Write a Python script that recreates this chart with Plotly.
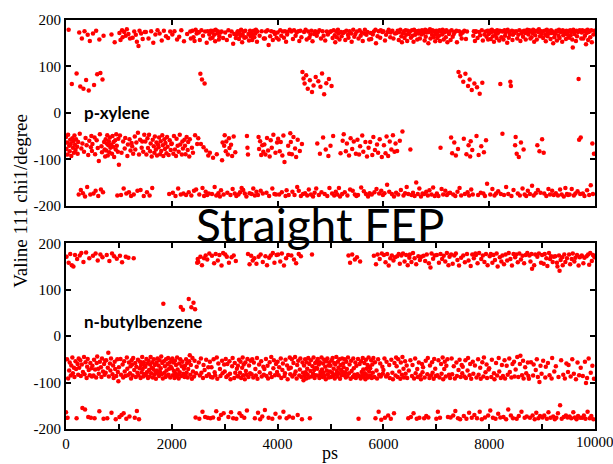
import plotly.graph_objects as go

# Valine 111 chi1 dihedral (degrees), one value per 10 ps frame, 0-10000 ps.
# Each line below holds 25 consecutive frames (250 ps).
chi1_pxylene = [
    -52, -78, -64, -90, -47, 179, -71, -83, -58, -67, -93, 62, -55, -75, -61, -86, -49, -69, -80, -57, 85, -73, -88, -63, -176,
    173, -45, 57, -166, -77, 160, -66, -173, 52, -84, 176, -180, -54, 71, -70, -160, 168, -91, 48, -60, 155, -176, -74, -50, -82,
    -67, 171, -174, 60, -53, -89, -168, 177, -59, 83, -76, -179, -104, 158, -46, 86, -165, -72, -85, 72, -171, 166, -63, -79, -94,
    -57, -81, -66, -48, -92, -70, -61, -85, -53, -75, -68, 169, -88, -50, -73, -63, -95, 152, -59, -79, -46, -71, -178, -84, -56,
    -112, 172, -49, 157, -177, -86, 178, 163, -62, -163, 174, -77, -54, 166, -174, 180, -93, -68, 170, -171, -57, 160, -81, -179, -65,
    -72, 162, -88, -176, 175, -51, -79, 168, -64, 153, -168, -43, 144, -90, 177, -58, -166, 171, -75, -62, 159, -84, -179, -47, 174,
    -62, 174, -90, -171, -55, -76, 160, -47, -178, -83, -66, 176, -94, -162, -58, 151, -72, -86, -51, 169, -79, -64, -92, 178, -69,
    -74, -53, 171, -89, -61, -82, 156, -48, -70, -93, 177, -57, -78, -65, 165, -87, -52, -73, 161, -91, -175, -59, 175, -80, -67,
    -66, 169, -172, -88, -50, 176, -79, -179, -93, -56, 158, -71, -163, -84, 164, -47, -68, -176, 178, -90, -62, -77, -174, 154, -58,
    -71, -89, -177, -52, 170, -80, -63, -171, -94, -57, 175, 160, -178, -75, 177, -86, 163, -168, 155, -48, 179, -165, 171, -67, 174,
    -55, 173, -176, 157, 84, -67, 178, 72, -162, 166, -74, -179, 63, 175, -170, -81, 151, -177, 176, -92, -174, 169, -86, 160, 177,
    174, -175, 162, -97, 177, 168, -160, 154, 179, -178, -89, 171, 176, -173, 158, 165, -180, 173, -167, 175, -102, -64, 161, -176, -71,
    -48, 173, -83, -62, 157, -172, -90, 178, -55, -76, 166, -177, -69, 175, -93, -164, 149, -51, 170, -174, -85, 161, -179, 168, 174,
    176, -176, 159, 173, -171, 166, 179, -162, 152, 168, -166, 175, 162, -174, 177, 163, -180, -50, -75, -90, 170, 156, -173, 177, 165,
    172, -175, 157, 168, -163, 177, 163, -178, 171, 179, -170, 153, 175, -177, -52, -78, 166, -61, -168, -91, 176, -70, -174, -84, 160,
    -68, 160, -90, 175, -172, -54, 178, -81, 146, -179, -94, 165, -59, 176, -75, -163, 157, -47, 174, -175, 170, -86, -176, 162, -64,
    173, -56, 158, -176, -83, 178, -63, 166, -171, -92, 175, -49, 162, -106, 176, -179, 153, -167, 169, 174, -71, -177, -88, 179, -44,
    -63, 175, -89, -170, 159, -52, 178, -177, -77, 166, -95, 173, -160, -58, 176, -168, 155, -82, 177, -179, 163, -67, 88, -175, 74,
    174, 63, -173, 179, 81, 158, -178, 52, 175, -165, 162, 70, 168, -176, 177, 45, 154, -180, 59, 170, -172, 176, 77, -163, 166,
    -66, 173, 68, -177, 178, -88, 56, 160, -171, 85, 176, -53, 166, 40, -175, 156, -79, 64, 175, -179, 169, -93, 73, -162, 174,
    -71, 176, 58, -174, 161, -50, 178, -178, 167, 152, -170, 175, 163, -176, 179, 171, -162, 158, -180, -87, 174, 165, -175, -60, 172,
    -46, 174, -171, 157, -83, 177, -66, -178, 168, 162, -92, 176, -165, -55, 171, 153, -78, -168, 179, -62, 164, -176, 170, -88, -179,
    175, -58, -177, 160, -90, 178, -72, 166, -161, 173, -49, 155, -84, -169, 171, 179, -63, -175, 168, -94, 174, -180, -75, 158, -173,
    -63, 172, 159, -176, -91, 169, -52, 175, -171, -80, 179, 150, -164, -68, 165, -86, 176, -174, -57, 162, 178, -168, -95, 174, -177,
    176, -70, -173, 156, -87, 168, -51, -155, 174, -93, 179, -170, -62, 163, 173, -79, -175, 177, -48, 160, -180, -84, 171, -66, -172,
    172, -82, 177, -176, 157, 174, -60, 179, -166, 165, 152, -40, 171, -178, 176, 161, -173, 178, 168, -160, 155, 177, -175, 170, 174,
    175, -79, 162, -177, 178, 166, -172, 153, 179, -179, 168, 174, -150, 176, 158, -175, 171, 177, -163, 160, 175, -180, 169, 178, -174,
    171, 176, -175, 156, 179, 164, -170, 173, 177, -178, 150, 174, -167, 180, 160, 175, -176, 168, 178, -161, 163, 176, -179, 154, 169,
    177, -174, 161, 174, -179, 166, 178, 155, -75, 175, -164, 169, 179, -176, 158, 173, 176, -168, 163, 178, -177, 152, 174, -173, 170,
    175, -172, 157, -53, 178, -87, 164, -176, 170, -64, 174, -179, -92, 177, 152, -170, -78, 88, 176, -162, 79, 168, -178, 160, 173,
    173, 67, -56, 177, -175, 84, 159, -89, 175, -171, 58, -70, -178, 72, -94, -61, -165, 49, -80, -176, 166, 176, 63, 155, 174,
    176, -50, 55, 161, -177, -91, 174, 41, 167, -172, -72, 178, 65, 156, -174, -85, 169, -179, 175, -59, 164, -153, 177, 158, 170,
    172, 177, -176, 159, 174, 179, -164, 165, 175, 153, -178, 176, 168, -174, 161, 178, 171, -169, 174, 156, 177, 62, -175, 163, 176,
    -45, 175, 158, -177, 178, 166, 173, -160, 176, 151, 179, -175, 162, 174, 169, 67, 58, -179, 177, 157, 168, -166, 175, 172, -70,
    -52, 176, -88, 160, -174, 168, -95, 178, -178, 155, -64, 171, 175, -163, 164, -79, 177, -176, 172, 158, -179, 174, 179, -168, 169,
    174, 178, -175, 160, 176, 163, -157, 172, 179, -178, 153, 175, 167, -173, 177, 158, -70, -166, 174, 180, -83, 165, -172, 176, 170,
    -57, 175, 161, -86, -174, 177, 168, 154, -179, 179, 165, 174, -164, 171, 176, -176, 159, 178, 172, -168, 175, 150, -177, 163, 170,
    172, -173, 177, 156, 175, -178, 166, 179, 161, -165, 174, 176, -176, 153, 178, 167, -180, 170, 175, -162, 159, 177, -175, 168, -177,
    176, 162, -176, 178, 167, 174, -164, 158, 141, 179, -178, 170, 175, -174, 155, 177, 165, -169, 174, 73, -58, 178, -175, -53, 160,
    173, 178, -174, 160, 175, -179, 166, 177, 148, 172, -167, 179, 157, 174, -177, 176, 163, -156, 178, 152, -66, -175, 169, -88, 177,
]

chi1_nbutylbenzene = [
    -164, 171, -50, -176, -91, 158, -74, -57, 177, -85, -63, 153, -46, -80, 150, -68, -88, 175, -54, -71, -177, 166, -60, -83, -48,
    -68, 174, -52, -86, 179, -61, -155, -77, 160, -45, -82, -158, -56, 180, -90, -66, -49, -174, -73, 168, -84, -58, -176, -69, -87,
    -64, 173, -85, -51, -177, -72, 178, -89, -58, -44, 163, -70, -81, -162, -55, 176, -67, -88, -48, 170, -76, -178, -60, -83, -53,
    -79, -52, 175, -177, -68, -36, -87, 162, -59, -74, -48, -165, 178, -82, -63, -90, 172, -55, -71, -179, -86, 167, -50, -77, -97,
    -67, -174, 173, -49, -83, -170, 159, -61, -89, -166, -54, -76, -86, 171, -178, -46, -70, -84, 169, -57, -173, -80, -65, -91, -52,
    -61, -85, -47, 168, -73, -176, -58, -88, -66, -161, -79, -51, -84, -179, -69, -55, -90, -62, -78, -45, -71, -87, -56, -82, -64,
    -66, -84, -49, -78, -59, -90, -53, -73, -87, -61, -45, -80, -68, -56, -89, -71, -50, -83, -62, -76, -92, -57, -74, -48, -81,
    -63, -86, -52, -77, -69, -44, -82, -58, -91, 70, -54, -79, -65, -88, -50, -74, -85, -60, -47, -83, -70, -57, -89, -66, -51,
    -69, -48, -84, -57, -75, -90, -53, -80, -62, -87, -46, -72, -83, -91, -59, -78, -50, 63, -86, -65, -55, 57, -81, -70, -88,
    -64, -85, -50, -79, -58, -89, -71, 80, -54, -41, -83, -62, 62, -92, -47, -76, 72, -87, -53, 58, -175, -80, -66, 158, 166,
    160, -57, -178, -85, 171, -48, -79, 153, -163, -90, -62, 168, -73, -174, 174, -51, -86, 165, -176, -67, -82, 178, -55, -177, -88,
    -67, 173, -89, -175, -50, 157, -78, -84, 177, -162, -46, -92, 163, -59, -178, 175, -71, -86, -170, 152, -53, -80, 179, -166, -61,
    -76, 176, -49, -88, 171, -60, -85, -174, 158, -54, -81, -93, -164, 170, -65, -47, -177, 174, -90, -58, -79, 162, -178, -70, -86,
    -64, -87, -51, -166, -79, -55, -90, -172, -68, -46, -84, -61, -176, -93, -57, -75, -83, -160, -49, 177, -88, -63, 155, -80, -53,
    173, -82, -50, 163, -89, -57, 168, -177, -71, -85, 156, -47, -92, -165, 171, -61, -78, -179, 176, -54, -87, -173, 160, -66, -83,
    -71, -159, 172, -49, -86, 153, -64, -91, -176, 169, -56, -80, 174, -45, -88, -178, 179, -69, -52, 158, -84, -167, -60, 175, -77,
    -55, 176, -84, -67, -175, 161, -48, -90, 178, -73, -59, -163, 152, -86, -80, -51, 168, -177, -63, -93, 175, -70, -173, -46, -82,
    -68, 174, -50, -87, -176, -58, 165, -82, -45, -76, 157, -91, -62, -170, -53, 177, -85, -72, -48, 172, -88, -179, -57, -79, -95,
    -63, -86, -50, -78, -91, -56, -70, -83, -47, -89, -60, -177, -75, -52, -87, 176, -65, -81, -46, -73, -90, -58, -84, -68, -54,
    -70, -49, -85, -61, -90, -56, -77, -83, -46, -72, -88, -59, -79, -51, -86, -66, -93, -54, -74, -48, -82, -63, -89, -57, -76,
    -64, -88, -52, -79, -47, -85, -70, -58, -91, -61, -82, -45, -75, -87, -55, -68, -80, -50, -92, -62, -73, -84, -48, -77, -59,
    -67, -84, -50, -78, -89, -55, -71, -86, -46, 174, -80, -61, 158, -92, -53, -75, 176, -88, -48, -69, -83, 165, -57, -90, -64,
    170, -82, -49, -178, -86, -60, 161, -91, -54, -77, -85, -47, -72, -88, -58, -80, -93, -51, -70, -84, -62, -89, -46, -76, -66,
    -69, -85, -52, -90, -61, -79, -47, 173, -88, -56, -177, 155, -74, -91, 176, -50, -163, -83, 166, -59, -87, -180, 178, -66, -81,
    -73, 175, -48, -176, 159, -87, -55, 177, -82, -171, 152, -62, -90, 168, -178, -51, 174, -79, -93, 163, -166, -58, 170, -85, -46,
    -65, 172, -88, -50, 177, -76, 156, -92, -57, 174, -83, -45, 178, -70, -89, 161, -54, -81, 175, -63, -90, 153, -177, -74, 169,
    176, -52, -174, 160, -86, -62, 179, -166, -91, 168, -48, -80, 155, -178, -71, -88, 172, -57, -176, 164, -84, -93, 171, -60, -78,
    -67, 173, -177, -89, 162, -53, -172, 176, -82, -47, -175, 157, -90, -63, 148, -85, 178, -56, -79, 167, -92, -49, 174, -70, -86,
    -178, 175, -84, -163, -52, 158, -89, -176, 177, -60, -81, 166, -46, -93, 173, -71, -55, 161, -87, -64, 179, -50, -174, 153, -83,
    171, -90, -175, 176, -48, -82, 156, -171, -65, 174, -91, -161, 178, -57, -86, 164, -177, -73, 152, -51, -179, -88, 169, -62, -80,
    -66, 174, -172, -87, 159, -52, -90, -178, 177, -74, -47, 163, -165, -84, -60, 151, -92, -176, 176, -55, -81, 168, -170, -63, 178,
    175, -89, -177, 157, -50, -83, 179, -163, -68, -92, 166, -179, -56, 174, -87, -46, 160, -175, -78, 177, -61, -90, 153, -171, -72,
    -69, 172, -160, 177, -88, -51, 158, -176, 175, -80, -93, 164, -178, -58, 178, -85, 150, -167, -47, -76, 170, -175, -90, 161, -62,
    174, -86, -174, 155, -52, -91, 176, -179, -64, 163, -83, -158, 179, -48, -77, 166, -171, -89, 152, -60, -177, 177, -55, -87, 170,
    -72, 176, -178, -45, 159, -88, -172, 178, -60, -42, 165, -163, -84, 173, -53, -91, 157, -176, -67, 175, -80, -173, 179, -57, -86,
    -92, 174, -176, 161, -56, 177, 145, -171, -85, -61, 153, -179, 176, -73, -165, -50, 171, -88, -177, 178, -99, -172, -64, 158, -81,
    175, -175, -53, 156, -171, 177, -89, -66, 168, -178, 151, -58, -164, 179, -84, 166, -176, 172, -91, -47, 160, -173, 171, -76, -179,
    172, -65, -176, 158, 150, -166, -88, 174, 141, -149, 164, -52, -178, 170, 153, -83, -174, 176, -91, 160, -171, -59, 168, -175, -77,
    -62, 176, -173, 155, -87, -177, 166, -50, 178, -164, -81, 161, -175, 169, -93, -179, 175, -57, -172, 152, -84, 170, -176, -68, 172,
    174, -176, -86, 157, -171, 169, -55, -178, -101, 172, -90, -163, 176, -48, 154, -177, 179, -79, -172, 162, -64, 175, -179, -92, 170,
]

frame_ps = 10
time_pxylene = [i * frame_ps for i in range(len(chi1_pxylene))]
time_nbutylbenzene = [i * frame_ps for i in range(len(chi1_nbutylbenzene))]

y_ticks = [-200, -100, 0, 100, 200]
y_tick_text = ["-200", "-100", "0", "100", "200"]
x_ticks_bottom = [0, 1000, 2000, 3000, 4000, 5000, 6000, 7000, 8000, 9000, 10000]
# the last label is placed separately so it can run past the right edge
x_tick_text_bottom = ["0", "", "2000", "", "4000", "", "6000", "", "8000", "", ""]
x_ticks_top = [0, 2000, 4000, 6000, 8000, 10000]

marker_style = dict(color="#ff0000", size=4.5, line=dict(width=0))

fig = go.Figure()
fig.add_trace(go.Scatter(x=time_pxylene, y=chi1_pxylene, mode="markers",
                         marker=marker_style, xaxis="x2", yaxis="y2",
                         showlegend=False, hoverinfo="skip"))
fig.add_trace(go.Scatter(x=time_nbutylbenzene, y=chi1_nbutylbenzene, mode="markers",
                         marker=marker_style, xaxis="x", yaxis="y",
                         showlegend=False, hoverinfo="skip"))

tick_font = dict(family="Liberation Serif", size=15, color="black")
axis_style = dict(
    showline=True, linecolor="black", linewidth=2, mirror="ticks",
    ticks="inside", ticklen=5, tickwidth=1.5, tickcolor="black",
    showgrid=False, zeroline=False, tickfont=tick_font,
)

fig.update_layout(
    width=613, height=464,
    margin=dict(l=66, r=18, t=19, b=33),
    paper_bgcolor="white", plot_bgcolor="white",
    xaxis=dict(domain=[0, 1], range=[0, 10000], anchor="y",
               tickmode="array", tickvals=x_ticks_bottom, ticktext=x_tick_text_bottom,
               **axis_style),
    yaxis=dict(domain=[0, 0.454], range=[-200, 200], anchor="x",
               tickmode="array", tickvals=y_ticks, ticktext=y_tick_text,
               **axis_style),
    xaxis2=dict(domain=[0, 1], range=[0, 10000], anchor="y2",
                tickmode="array", tickvals=x_ticks_top, showticklabels=False,
                **axis_style),
    yaxis2=dict(domain=[0.546, 1], range=[-200, 200], anchor="x2",
                tickmode="array", tickvals=y_ticks, ticktext=y_tick_text,
                **axis_style),
    annotations=[
        dict(text="10000", x=10000, y=-0.0316, xref="x", yref="paper",
             xanchor="center", yanchor="middle", showarrow=False,
             font=tick_font),
        dict(text="Straight FEP", x=0.48, y=0.5, xref="paper", yref="paper",
             xanchor="center", yanchor="middle", showarrow=False,
             font=dict(family="Lato", size=46, color="black")),
        dict(text="<b>p-xylene</b>", x=0.03, y=0.774, xref="paper", yref="paper",
             xanchor="left", yanchor="middle", showarrow=False,
             font=dict(family="Lato", size=17, color="black")),
        dict(text="<b>n-butylbenzene</b>", x=0.03, y=0.262, xref="paper", yref="paper",
             xanchor="left", yanchor="middle", showarrow=False,
             font=dict(family="Lato", size=17, color="black")),
        dict(text="Valine 111 chi1/degree", x=-0.085, y=0.558, xref="paper", yref="paper",
             xanchor="center", yanchor="middle", textangle=-90, showarrow=False,
             font=dict(family="Liberation Serif", size=19, color="black")),
        dict(text="ps", x=0.499, y=-0.03, xref="paper", yref="paper",
             xanchor="center", yanchor="top", showarrow=False,
             font=dict(family="Liberation Serif", size=18, color="black")),
    ],
)

fig.write_html("out.html")
